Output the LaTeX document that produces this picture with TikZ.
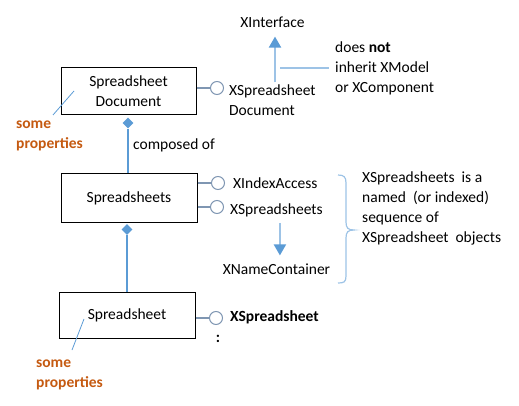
\documentclass[tikz,border=0pt]{standalone}
\usepackage{fontspec}
\setmainfont{Carlito}
\usetikzlibrary{arrows.meta,shapes.geometric}
\definecolor{lblue}{HTML}{5B9BD5}
\definecolor{pblue}{HTML}{9DC3E6}
\definecolor{lolli}{HTML}{7F96B2}
\definecolor{orng}{HTML}{C55A11}
\begin{document}
\begin{tikzpicture}[x=1pt,y=-1pt,
  every node/.style={font=\fontsize{15.5}{20}\selectfont, inner sep=2pt},
  box/.style={draw, line width=1pt, minimum width=136pt, minimum height=47pt, align=center},
  lol/.style={circle, draw=lolli, line width=1pt, minimum size=13pt, inner sep=0pt},
  lolline/.style={draw=lolli, line width=1.2pt},
  lbl/.style={anchor=west, align=left},
  conn/.style={draw=lblue, line width=1.2pt},
  dia/.style={diamond, fill=lblue, minimum size=11pt, inner sep=0pt},
  bigarrow/.style={draw=pblue, line width=2pt, -{Triangle[width=12pt,length=11pt,color=lblue]}},
  prop/.style={text=orng, font=\fontsize{15.5}{20}\selectfont\bfseries, align=left, anchor=west},
  propline/.style={draw=lblue, line width=0.8pt},
  bracestyle/.style={draw=pblue, line width=1.2pt},
]
\useasboundingbox (0,0) rectangle (519,406);

% boxes
\node[box, minimum width=135pt] (doc) at (128.5,91.5) {Spreadsheet\\Document};
\node[box, minimum height=48pt] (sheets) at (129,198) {Spreadsheets};
\node[box, minimum height=46pt] (sheet) at (127,315) {Spreadsheet};

% document interface
\node[lol] (c1) at (217,88) {};
\draw[lolline] (doc.east |- c1) -- (c1.west);
\node[lbl] (xsd) at (227,100) {XSpreadsheet\\Document};
\node (xi) at (272.5,22) {XInterface};
\draw[bigarrow, shorten >=7pt] ([xshift=2.5pt]xi.south |- xsd.north) -- ([xshift=2.5pt]xi.south);
\node[lbl] (note) at (333,68) {does \textbf{not}\\inherit XModel\\or XComponent};
\draw[draw=pblue, line width=1.2pt] ([xshift=7.5pt]xi.south |- note.west) -- ([xshift=-4pt]note.west);

% composition 1
\node[dia] (d1) at (128,123) {};
\draw[conn] (d1.south) -- (d1.south |- sheets.north);
\node[anchor=west] (comp) at (131,145) {composed of};

% spreadsheets interfaces
\node[lol] (c2) at (218,183) {};
\draw[lolline] (sheets.east |- c2) -- (c2.west);
\node[lol] (c3) at (217,207) {};
\draw[lolline] (sheets.east |- c3) -- (c3.west);
\node[lbl] (xia) at (231,183) {XIndexAccess};
\node[lbl] (xss) at (228,210) {XSpreadsheets};
\node (xnc) at (276.5,269) {XNameContainer};
\draw[bigarrow, shorten <=4pt, shorten >=6pt] ([xshift=3.5pt]xss.south) -- ([xshift=3.5pt]xss.south |- xnc.north);

% brace
\draw[bracestyle] (338,175) .. controls (344,175) and (346,177) .. (346,183) -- (346,222)
  .. controls (346,228) and (348,230) .. (354,230)
  .. controls (348,230) and (346,232) .. (346,238) -- (346,276)
  .. controls (346,282) and (344,283) .. (338,283);
\node[lbl] (note2) at (360,208) {XSpreadsheets\ \ is a\\named\ \ (or indexed)\\sequence of\\XSpreadsheet\ \ objects};

% composition 2
\node[dia] (d2) at (127,229.5) {};
\draw[conn] (d2.south) -- (d2.south |- sheet.north);

% spreadsheet interface
\node[lol] (c4) at (216,318) {};
\draw[lolline] (sheet.east |- c4) -- (c4.west);
\node[lbl, font=\fontsize{15.5}{20}\selectfont\bfseries] (xs) at (228,317) {XSpreadsheet};
\node (dots) at (218,339) {\textbf{:}};

% properties
\node[prop] (p1) at (14,136) {some\\properties};
\coordinate (p1a) at (53,115);
\coordinate (p1b) at (74,91);
\draw[propline] (p1a) -- (p1b);
\node[prop] (p2) at (34,375) {some\\properties};
\coordinate (p2a) at (72,350);
\coordinate (p2b) at (84,319);
\draw[propline] (p2a) -- (p2b);
\end{tikzpicture}
\end{document}
